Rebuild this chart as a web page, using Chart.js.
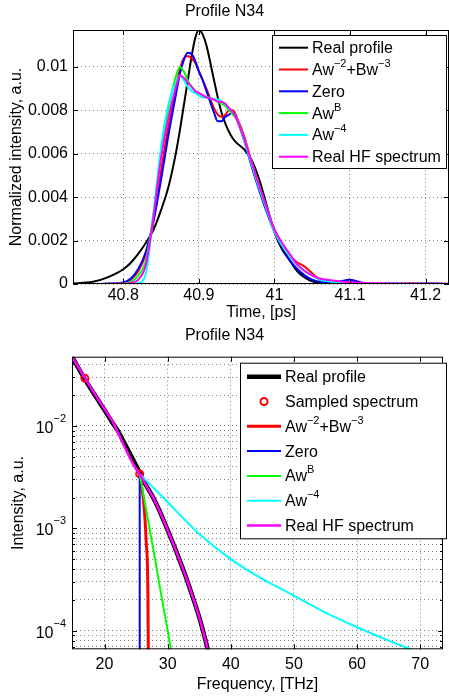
<!DOCTYPE html>
<html>
<head>
<meta charset="utf-8">
<script src="https://cdn.jsdelivr.net/npm/chart.js@4.4.1/dist/chart.umd.min.js"></script>
<style>
  html, body { margin: 0; padding: 0; background: #fff; }
  canvas { display: block; position: absolute; left: 0; }
  #profile { top: 0; }
  #spectrum { top: 320px; }
</style>
</head>
<body>
<canvas id="profile" width="449" height="320"></canvas>
<canvas id="spectrum" width="449" height="380"></canvas>
<script>
const FONT = "'Liberation Sans', Arial, Helvetica, sans-serif";
Chart.defaults.font.family = FONT;
Chart.defaults.font.size = 16;
Chart.defaults.color = '#000';

// ---- time domain, ps ----
const time = [40.73, 40.76, 40.78, 40.80, 40.81, 40.82, 40.83, 40.84, 40.85, 40.86,
  40.87, 40.875, 40.88, 40.885, 40.89, 40.895, 40.90, 40.905, 40.91, 40.92,
  40.925, 40.93, 40.935, 40.94, 40.945, 40.95, 40.96, 40.97, 40.98, 40.99,
  41.00, 41.01, 41.02, 41.03, 41.04, 41.05, 41.06, 41.08, 41.10, 41.12,
  41.15, 41.18, 41.20, 41.235];

const realProfile = [0.00002, 0.0001, 0.00032, 0.00068, 0.00098, 0.0014, 0.0019, 0.0025, 0.0034, 0.0045,
  0.0061, 0.0071, 0.0082, 0.0093, 0.0104, 0.0113, 0.0117, 0.0115, 0.0110, 0.0094,
  0.0086, 0.0079, 0.0074, 0.0070, 0.0067, 0.0065, 0.0062, 0.0057, 0.0048, 0.0036,
  0.0024, 0.0016, 0.0011, 0.0006, 0.0003, 0.00012, 0.00005, 0.00001, 0, 0,
  0, 0, 0, 0];

const fitMix = [0, 0, 0.00001, 0.00005, 0.0002, 0.0006, 0.0014, 0.0029, 0.0052, 0.0073,
  0.0091, 0.0099, 0.0104, 0.0105, 0.0104, 0.0102, 0.0098, 0.0094, 0.0090, 0.0081,
  0.0078, 0.0077, 0.0078, 0.0080, 0.0080, 0.0077, 0.0068, 0.0056, 0.0045, 0.0034,
  0.0025, 0.0018, 0.0013, 0.0010, 0.0008, 0.0005, 0.0002, 0.00005, 0.0001, 0.00002,
  0, 0.00005, 0.00002, 0];

const fitZero = [0, 0, 0.00002, 0.00007, 0.00025, 0.0007, 0.0015, 0.0029, 0.0048, 0.0069,
  0.0088, 0.0097, 0.0103, 0.01065, 0.0106, 0.0103, 0.0098, 0.0094, 0.0089, 0.0079,
  0.0075, 0.0075, 0.0077, 0.0078, 0.0079, 0.0076, 0.0066, 0.0054, 0.0043, 0.0033,
  0.0024, 0.0017, 0.0011, 0.0007, 0.0004, 0.0002, 0.0001, 0.00008, 0.0002, 0.00003,
  0.00005, 0, 0.00003, 0];

const fitPowB = [0, 0, 0, 0.00002, 0.0001, 0.0004, 0.0011, 0.0032, 0.0060, 0.0081,
  0.0096, 0.0100, 0.0098, 0.0094, 0.0091, 0.0089, 0.0087, 0.0086, 0.0086, 0.0085,
  0.0084, 0.0083, 0.0082, 0.0080, 0.0078, 0.0076, 0.0067, 0.0056, 0.0045, 0.0035,
  0.0025, 0.0018, 0.0013, 0.0009, 0.0006, 0.0004, 0.0002, 0.0001, 0.00005, 0.00002,
  0.00004, 0.00001, 0.00001, 0];

const fitPow4 = [0, 0, 0, 0, 0, 0.00005, 0.0005, 0.0033, 0.0063, 0.0083,
  0.0093, 0.0096, 0.0094, 0.0091, 0.0089, 0.0088, 0.0087, 0.0086, 0.0086, 0.0085,
  0.0085, 0.0084, 0.0083, 0.0081, 0.0079, 0.0076, 0.0066, 0.0055, 0.0044, 0.0034,
  0.0024, 0.0018, 0.0013, 0.0009, 0.0006, 0.0004, 0.0002, 0.0001, 0.00005, 0.00002,
  0.00003, 0.00001, 0.00001, 0];

const realHF = [0, 0, 0, 0.00002, 0.00005, 0.0002, 0.0009, 0.0031, 0.0058, 0.0077,
  0.0091, 0.0096, 0.0095, 0.0093, 0.0091, 0.0089, 0.0088, 0.0087, 0.0086, 0.0085,
  0.0084, 0.0084, 0.0083, 0.0081, 0.0079, 0.0076, 0.0067, 0.0056, 0.0045, 0.0035,
  0.0025, 0.0019, 0.0014, 0.0009, 0.0006, 0.0004, 0.00025, 0.00015, 0.00008, 0.00005,
  0.00003, 0.00002, 0.00002, 0.00001];

const timeTicks = [40.8, 40.9, 41, 41.1, 41.2];
const intensityTicks = [0, 0.002, 0.004, 0.006, 0.008, 0.01];
const intensityLabels = ['0', '0.002', '0.004', '0.006', '0.008', '0.01'];

// ---- spectrum, THz ----
const profileFreq = [14.85, 16.9, 18, 19, 20, 21, 21.5, 22, 23, 24, 25, 25.57,
  26, 27, 28, 29, 30, 31, 32, 33, 34, 35, 36, 37];
const profileSpec = [0.0475, 0.0285, 0.0222, 0.0178, 0.0143, 0.0114, 0.0102, 0.0092, 0.0071, 0.0054, 0.0041, 0.0035,
  0.00305, 0.00238, 0.00184, 0.00135, 0.00096, 0.00068, 0.00047, 0.00032, 0.00021, 0.000135, 0.00008, 0.000045];

const sampledFreq = [16.9, 25.57];
const sampledSpec = [0.0292, 0.0034];

const mixFreq = [25.57, 25.9, 26.24, 26.6, 26.86, 26.95];
const mixSpec = [0.0034, 0.0025, 0.0017, 0.00074, 0.00026, 0.00005];

const zeroFreq = [25.57, 25.57];
const zeroSpec = [0.0034, 0.000001];

const powBFreq = [25.57, 27, 28, 29, 30, 30.5, 31];
const powBSpec = [0.0034, 0.0011, 0.0005, 0.00022, 0.0001, 0.000066, 0.000045];

const pow4Freq = [25.57, 28, 30, 32.5, 35, 40, 45, 50, 55, 60, 65, 69];
const pow4Spec = [0.0034, 0.0024, 0.0018, 0.00125, 0.00088, 0.0005, 0.00032, 0.00022, 0.00015, 0.000108, 0.00008, 0.000064];

const hfFreq = [14.85, 16.9, 18, 19, 20, 21, 21.5, 22, 23, 24, 25, 25.57,
  26, 27, 28, 29, 30, 31, 32, 33, 34, 35, 36, 37];
const hfSpec = [0.0475, 0.0295, 0.0228, 0.0182, 0.0146, 0.0118, 0.0104, 0.0089, 0.0066, 0.0049, 0.0038, 0.0034,
  0.00305, 0.00238, 0.00184, 0.00135, 0.00096, 0.00068, 0.00047, 0.00032, 0.00021, 0.000135, 0.00008, 0.000045];

const freqTicks = [20, 30, 40, 50, 60, 70];
const decades = [-5, -4, -3, -2];
const labelledDecades = [-4, -3, -2];

const labels = ['Real profile', 'Aw^{\u22122}+Bw^{\u22123}', 'Zero', 'Aw^{B}', 'Aw^{\u22124}', 'Real HF spectrum'];
const colours = ['#000000', '#ff0000', '#0000ff', '#00ff00', '#00ffff', '#ff00ff'];

function pts(xs, ys) {
    return xs.map((x, i) => ({x: x, y: ys[i]}));
}

// text with ^{...} superscripts
function drawRich(ctx, text, x, y, size) {
    const parts = text.split(/\^\{([^}]*)\}/);
    let cx = x;
    ctx.textAlign = 'left';
    ctx.textBaseline = 'alphabetic';
    parts.forEach((s, i) => {
        if (!s) return;
        const sup = i % 2 === 1;
        ctx.font = (sup ? 11 : size) + 'px ' + FONT;
        ctx.fillText(s, cx, sup ? y - 8 : y);
        cx += ctx.measureText(s).width;
    });
}

const frame = {
    id: 'frame',
    afterDatasetsDraw(chart) {
        const {ctx, chartArea: a, scales} = chart;
        ctx.save();
        ctx.strokeStyle = '#000';
        ctx.lineWidth = 1;
        ctx.strokeRect(a.left + 0.5, a.top + 0.5, a.right - a.left - 1, a.bottom - a.top - 1);
        ctx.beginPath();
        for (const t of scales.x.ticks) {
            const px = Math.round(scales.x.getPixelForValue(t.value)) + 0.5;
            ctx.moveTo(px, a.bottom); ctx.lineTo(px, a.bottom - 5);
            ctx.moveTo(px, a.top); ctx.lineTo(px, a.top + 5);
        }
        for (const t of scales.y.ticks) {
            const py = Math.round(scales.y.getPixelForValue(t.value)) + 0.5;
            const len = t.minor ? 3 : 5;
            ctx.moveTo(a.left, py); ctx.lineTo(a.left + len, py);
            ctx.moveTo(a.right, py); ctx.lineTo(a.right - len, py);
        }
        ctx.stroke();
        ctx.restore();
    }
};

const boxLegend = {
    id: 'boxLegend',
    afterDraw(chart, args, o) {
        const ctx = chart.ctx;
        ctx.save();
        ctx.fillStyle = '#fff';
        ctx.fillRect(o.x, o.y, o.w, o.h);
        ctx.strokeStyle = '#000';
        ctx.lineWidth = 1;
        ctx.strokeRect(o.x + 0.5, o.y + 0.5, o.w, o.h);
        chart.data.datasets.forEach((ds, i) => {
            const cy = o.y + o.first + i * o.step;
            if (ds.showLine === false) {
                ctx.beginPath();
                ctx.arc((o.from + o.to) / 2, cy, ds.pointRadius, 0, 2 * Math.PI);
                ctx.strokeStyle = ds.pointBorderColor;
                ctx.lineWidth = ds.pointBorderWidth;
                ctx.stroke();
            } else {
                ctx.beginPath();
                ctx.moveTo(o.from, cy);
                ctx.lineTo(o.to, cy);
                ctx.strokeStyle = ds.borderColor;
                ctx.lineWidth = ds.borderWidth;
                ctx.stroke();
            }
            ctx.fillStyle = '#000';
            drawRich(ctx, ds.label, o.textX, cy + 5.5, 16);
        });
        ctx.restore();
    }
};

const powerLabels = {
    id: 'powerLabels',
    afterDraw(chart) {
        const {ctx, scales: {y}} = chart;
        ctx.save();
        ctx.fillStyle = '#000';
        ctx.textAlign = 'left';
        ctx.textBaseline = 'alphabetic';
        for (const p of labelledDecades) {
            const py = y.getPixelForValue(Math.pow(10, p));
            const sup = '\u2212' + Math.abs(p);
            ctx.font = '11px ' + FONT;
            const sw = ctx.measureText(sup).width;
            ctx.font = '16px ' + FONT;
            const bw = ctx.measureText('10').width;
            const right = y.right - 6;
            ctx.fillText('10', right - sw - bw, py + 7);
            ctx.font = '11px ' + FONT;
            ctx.fillText(sup, right - sw, py - 4);
        }
        ctx.restore();
    }
};

const gridStyle = { color: 'rgba(0,0,0,0.5)', lineWidth: 1, drawTicks: false };
const borderStyle = { display: false, dash: [1, 3] };

function lineSet(label, data, colour, width, order) {
    return {
        label: label, data: data, borderColor: colour, backgroundColor: colour,
        borderWidth: width, pointRadius: 0, fill: false, order: order,
        cubicInterpolationMode: 'monotone'
    };
}

// ---- top: time profile ----
const topSeries = [realProfile, fitMix, fitZero, fitPowB, fitPow4, realHF];

new Chart(document.getElementById('profile'), {
    type: 'line',
    data: {
        datasets: topSeries.map((s, i) => lineSet(labels[i], pts(time, s), colours[i], 2, topSeries.length - i))
    },
    options: {
        responsive: false,
        animation: false,
        events: [],
        plugins: {
            legend: { display: false },
            tooltip: { enabled: false },
            title: {
                display: true, text: 'Profile N34', color: '#000',
                font: { size: 16, weight: 'normal' },
                padding: { top: 2.4, bottom: 8.4 }
            },
            boxLegend: { x: 272, y: 35, w: 174, h: 133, first: 12.7, step: 21.8, from: 279, to: 308, textX: 312 }
        },
        scales: {
            x: {
                type: 'linear', min: 40.7335, max: 41.231,
                afterBuildTicks: s => { s.ticks = timeTicks.map(v => ({value: v})); },
                afterFit: s => { s.height = 36; },
                ticks: { padding: 2, maxRotation: 0, callback: v => String(v) },
                grid: gridStyle, border: borderStyle,
                title: { display: true, text: 'Time, [ps]', padding: { top: 0, bottom: -2 } }
            },
            y: {
                type: 'linear', min: 0, max: 0.0117,
                afterBuildTicks: s => { s.ticks = intensityTicks.map(v => ({value: v})); },
                afterFit: s => { s.width = 73; },
                ticks: { padding: 5, callback: (v, i) => intensityLabels[i] },
                grid: gridStyle, border: borderStyle,
                title: { display: true, text: 'Normalized intensity, a.u.', padding: { top: 6.5, bottom: 0 } }
            }
        }
    },
    plugins: [frame, boxLegend]
});

// ---- bottom: spectrum ----
const spectrumSets = [
    lineSet('Real profile', pts(profileFreq, profileSpec), '#000000', 4.5, 7),
    {
        label: 'Sampled spectrum', data: pts(sampledFreq, sampledSpec), showLine: false,
        pointRadius: 3.5, pointBorderWidth: 2, pointBorderColor: '#ff0000',
        pointBackgroundColor: 'rgba(0,0,0,0)', pointStyle: 'circle', order: 6
    },
    lineSet(labels[1], pts(mixFreq, mixSpec), '#ff0000', 3, 5),
    lineSet('Zero', pts(zeroFreq, zeroSpec), '#0000ff', 2, 4),
    lineSet(labels[3], pts(powBFreq, powBSpec), '#00ff00', 2, 3),
    lineSet(labels[4], pts(pow4Freq, pow4Spec), '#00ffff', 2, 2),
    lineSet('Real HF spectrum', pts(hfFreq, hfSpec), '#ff00ff', 2.5, 1)
];
spectrumSets.forEach(d => { d.clip = 0; });

new Chart(document.getElementById('spectrum'), {
    type: 'line',
    data: { datasets: spectrumSets },
    options: {
        responsive: false,
        animation: false,
        events: [],
        plugins: {
            legend: { display: false },
            tooltip: { enabled: false },
            title: {
                display: true, text: 'Profile N34', color: '#000',
                font: { size: 16, weight: 'normal' },
                padding: { top: 6.4, bottom: 11.1 }
            },
            boxLegend: { x: 240, y: 42.7, w: 206, h: 175.6, first: 14, step: 24.8, from: 247, to: 281, textX: 285 }
        },
        scales: {
            x: {
                type: 'linear', min: 14.85, max: 73.6,
                afterBuildTicks: s => { s.ticks = freqTicks.map(v => ({value: v})); },
                afterFit: s => { s.height = 50.7; },
                ticks: { padding: 5.4, maxRotation: 0, callback: v => String(v) },
                grid: gridStyle, border: borderStyle,
                title: { display: true, text: 'Frequency, [THz]', padding: { top: 0, bottom: 6.2 } }
            },
            y: {
                type: 'logarithmic', min: 0.0000658, max: 0.0475,
                afterBuildTicks: s => {
                    const list = [];
                    for (const e of decades) {
                        for (let m = 1; m <= 9; m++) {
                            const v = m * Math.pow(10, e);
                            if (v >= s.min && v <= s.max) list.push({value: v, minor: m !== 1});
                        }
                    }
                    s.ticks = list;
                },
                afterFit: s => { s.width = 72; },
                ticks: { display: false },
                grid: gridStyle, border: borderStyle,
                title: { display: true, text: 'Intensity, a.u.', padding: { top: 9, bottom: 0 } }
            }
        }
    },
    plugins: [frame, boxLegend, powerLabels]
});
</script>
</body>
</html>
